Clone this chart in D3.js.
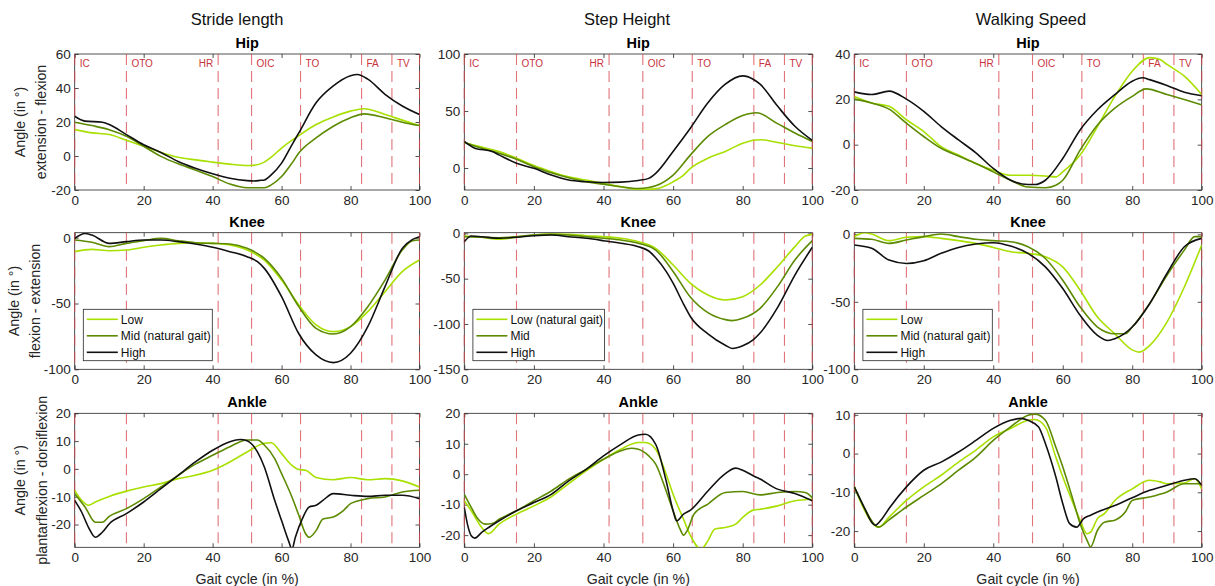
<!DOCTYPE html>
<html><head><meta charset="utf-8">
<script src="https://cdn.jsdelivr.net/npm/d3@7"></script>
<style>
body{margin:0;background:#fff}
svg{display:block}
text{font-family:"Liberation Sans",Arial,Helvetica,sans-serif}
</style>
</head><body>
<svg id="chart" width="1215" height="586"></svg>
<script>
// ---------- DATA ----------
const columnTitles = ["Stride length", "Step Height", "Walking Speed"];
const jointTitles = ["Hip", "Knee", "Ankle"];
const yLabelLine2 = ["extension - flexion", "flexion - extension", "plantarflexion - dorsiflexion"];
const seriesNamesByCol = [
  ["Low", "Mid (natural gait)", "High"],
  ["Low (natural gait)", "Mid", "High"],
  ["Low", "Mid (natural gait)", "High"]
];
const eventPositions = [0, 15, 41.6, 51.3, 65.5, 83.2, 92, 100];
const eventLabels = ["IC", "OTO", "HR", "OIC", "TO", "FA", "TV", ""];
const xTicks = [0, 20, 40, 60, 80, 100];

const hipDomains = [[-20, 60], [-19.3, 100], [-20, 40]];
const kneeDomains = [[-100, 3.8], [-150, 0.7], [-100, 1.2]];
const ankleDomains = [[-28.2, 20], [-24, 20], [-24.2, 10.4]];
const hipTicks = [[-20, 0, 20, 40, 60], [0, 50, 100], [-20, 0, 20, 40]];
const kneeTicks = [[-100, -50, 0], [-150, -100, -50, 0], [-100, -50, 0]];
const ankleTicks = [[-20, -10, 0, 10, 20], [-20, -10, 0, 10, 20], [-20, -10, 0, 10]];

// Stride length - Hip
const strideHipLow = [[0,15.5],[5,13.6],[10,12.6],[15,9.2],[20,5.7],[25,2.1],[30,-0.7],[35,-2.3],[40,-3.6],[45,-4.8],[50,-5.6],[52,-5.4],[55,-3.6],[57,-0.7],[60,4.7],[65,12.0],[70,18.5],[75,23.0],[80,26.4],[84,27.8],[90,24.4],[95,21.1],[100,17.9]];
const strideHipMid = [[0,19.9],[5,17.9],[10,15.5],[15,11.6],[20,5.7],[25,-0.2],[30,-4.6],[35,-8.2],[40,-12.1],[45,-16.5],[50,-18.7],[55,-18.7],[57,-17],[60,-12.1],[63,-4.2],[65,1.7],[70,10.6],[75,17.5],[80,22.5],[84,24.8],[90,22.5],[95,19.9],[100,17.9]];
const strideHipHigh = [[0,23.4],[3,20.5],[8,19.9],[10,18.5],[15,12.6],[20,6.6],[25,2.1],[30,-3.2],[35,-7.2],[40,-10.5],[45,-13.1],[50,-14.5],[52,-14.7],[54,-14.3],[55,-14.1],[57,-11.1],[60,-4.2],[63,6.6],[65,13.6],[70,31.3],[75,41.2],[80,47.2],[82,47.9],[85,45.2],[90,36.3],[95,29.4],[100,24.4]];
// Step Height - Hip
const stepHipLow = [[0,22.4],[5,18.3],[10,14.5],[15,8.6],[20,2.1],[25,-3.2],[30,-7.7],[35,-10.6],[40,-13.6],[45,-16.5],[50,-18.9],[55,-18.3],[60,-12.1],[63,-6.2],[65,-0.3],[70,8.6],[75,14.5],[80,21.8],[85,24.8],[90,22.4],[95,19.5],[100,17.4]];
const stepHipMid = [[0,22.4],[5,17.4],[10,13],[15,7.7],[20,1.2],[25,-4.1],[30,-8.6],[35,-12.1],[40,-14.2],[45,-16.5],[50,-18],[53,-17.1],[55,-15.6],[60,-6.2],[65,11.5],[70,27.7],[75,38.1],[80,46],[84,48.4],[90,38.9],[95,30.7],[100,23.3]];
const stepHipHigh = [[0,23.3],[3,17.4],[8,14.5],[10,11.5],[15,4.1],[20,-0.3],[25,-6.2],[30,-10.6],[35,-12.1],[40,-12.7],[45,-12.4],[50,-10.9],[53,-9.1],[55,-4.7],[60,14.5],[65,35.1],[70,57.2],[75,73.5],[80,80.8],[83,77.9],[85,73.5],[90,54.3],[95,36.6],[100,24.2]];
// Walking Speed - Hip
const speedHipLow = [[0,21.3],[5,18.4],[10,16.9],[15,11],[20,5.8],[25,-0.9],[30,-4.6],[35,-8.3],[40,-11.3],[45,-13.5],[50,-13.5],[55,-13.8],[58,-14.2],[60,-12],[65,-4.6],[70,8],[75,21.3],[80,32.4],[85,38.4],[88,37.6],[90,35.4],[95,30.2],[100,22.1]];
const speedHipMid = [[0,20.1],[5,18.4],[10,15.7],[15,9.5],[20,3.6],[25,-1.6],[30,-5],[35,-8.3],[40,-12],[45,-15.7],[50,-18.7],[55,-19],[58,-17.9],[60,-15.7],[65,-2.4],[70,8.7],[75,16.1],[80,21.3],[84,24.6],[90,22.1],[95,19.9],[100,17.6]];
const speedHipHigh = [[0,23.3],[5,22.1],[10,23.6],[15,20.1],[20,14.7],[25,8],[30,2.1],[35,-3.6],[40,-10.5],[45,-15.7],[50,-17.6],[52,-17.6],[55,-15.7],[60,-6.1],[65,6.5],[70,15.4],[75,22.1],[80,28],[83,29.5],[85,28.7],[90,26.1],[95,23.1],[100,21.6]];

// Stride length - Knee
const strideKneeLow = [[0,-10.6],[5,-8.9],[10,-9.9],[15,-9.4],[20,-7.3],[25,-5.6],[30,-4.3],[35,-3.8],[40,-4.3],[45,-5.6],[50,-9.4],[55,-17],[60,-32.2],[65,-51.1],[70,-66.3],[75,-71.4],[80,-67.6],[85,-56.2],[90,-41],[95,-25.8],[100,-17]];
const strideKneeMid = [[0,-1.8],[5,-3.5],[10,-6.8],[15,-4.3],[20,-2.3],[25,-0.5],[30,-2.3],[35,-3.8],[40,-4.3],[45,-4.8],[50,-8.1],[55,-15.7],[60,-30.9],[65,-52.4],[70,-68.9],[75,-73.2],[80,-67.6],[85,-52.4],[90,-32.2],[95,-9.4],[98,-2.3],[100,-1.8]];
const strideKneeHigh = [[0,-0.5],[3,3.2],[5,2],[10,-4.3],[15,-3],[20,-1.8],[25,-1.8],[30,-3],[35,-4.8],[40,-7.3],[45,-10.6],[50,-14.4],[53,-18.2],[55,-23.3],[60,-44.8],[65,-73],[70,-89.1],[75,-94.9],[80,-87.8],[85,-67.6],[90,-37.2],[95,-8.1],[98,-1.3],[100,0.8]];
// Step Height - Knee
const stepKneeLow = [[0,-2.9],[5,-4.4],[10,-6.6],[15,-4.4],[20,-1.8],[25,-0.7],[30,-1.1],[35,-2.6],[40,-3.7],[45,-5.5],[50,-9.2],[55,-16.5],[60,-34.9],[65,-55.1],[70,-68],[75,-73.5],[80,-69.9],[85,-57],[90,-36.8],[95,-14.7],[98,-2.9],[100,-1.1]];
const stepKneeMid = [[0,-3.7],[5,-4.4],[10,-4.8],[15,-3.7],[20,-1.8],[25,-1.1],[30,-1.8],[35,-3.7],[40,-5.5],[45,-7.4],[50,-11],[55,-18.4],[60,-42],[65,-70.5],[70,-87.5],[75,-95.2],[77,-96.3],[80,-93.8],[85,-82.7],[90,-58.8],[95,-29.4],[100,-8.1]];
const stepKneeHigh = [[0,-9.2],[2,-2.9],[5,-3.7],[10,-5.5],[15,-4.4],[20,-2.6],[25,-1.8],[30,-3.7],[35,-5.5],[40,-8.1],[45,-11],[50,-14.7],[53,-19.5],[55,-27],[58,-42],[60,-55],[63,-78],[65,-92],[70,-111],[75,-123.5],[77,-127],[80,-124],[83,-117.5],[85,-110],[90,-82],[95,-46],[100,-15.4]];
// Walking Speed - Knee
const speedKneeLow = [[0,-1.7],[3,1.2],[5,0.2],[10,-4.7],[15,-2.2],[20,-1.7],[25,-3],[30,-4.7],[35,-6.7],[40,-9.7],[45,-12.9],[50,-14.1],[55,-16.6],[60,-24.1],[65,-41.4],[70,-61.3],[75,-73.7],[80,-85.6],[82,-87.3],[85,-82.4],[90,-65],[95,-39],[100,-7.9]];
const speedKneeMid = [[0,-3],[5,-3.7],[10,-6.7],[15,-4.2],[20,-1.7],[25,0.2],[30,-1.7],[35,-3.7],[40,-4.7],[45,-5.5],[50,-9.2],[55,-17.9],[60,-34],[65,-53.8],[70,-68.7],[75,-73.7],[78,-73.7],[80,-68.7],[85,-51.4],[90,-30.3],[95,-11.7],[98,-1.7],[100,-1.7]];
const speedKneeHigh = [[0,-7.9],[5,-10.4],[10,-19.1],[15,-21.6],[20,-19.6],[25,-14.1],[30,-9.7],[35,-7.2],[40,-6.2],[45,-8.7],[50,-14.1],[55,-24.1],[60,-40.2],[65,-60],[70,-74.9],[73,-78.7],[75,-77.4],[80,-68.7],[85,-51.4],[90,-29],[95,-9.2],[100,-3]];

// Stride length - Ankle
const strideAnkleLow = [[0,-7.7],[2,-11.3],[4,-13.1],[6,-11.9],[10,-9.9],[15,-8],[20,-6.5],[25,-5.3],[30,-3.5],[35,-2.3],[40,-0.5],[45,2.5],[50,6.1],[55,9.2],[57,9.4],[60,5.5],[63,1.3],[65,-0.2],[67,-0.5],[70,-3.1],[75,-3.9],[80,-3.1],[85,-3.9],[90,-3.5],[95,-4.3],[100,-6.5]];
const strideAnkleMid = [[0,-8.9],[3,-13.7],[6,-19.2],[8,-19.2],[10,-17.1],[15,-14.3],[20,-10.7],[25,-6.5],[30,-2.3],[35,1.7],[40,4.9],[45,8],[50,10.4],[53,10.4],[55,8.6],[58,3.7],[60,-1.7],[63,-10.1],[65,-16.7],[67,-23.4],[68,-24.6],[70,-22.2],[72,-18],[75,-17.3],[78,-14.9],[80,-12.5],[85,-10.7],[90,-10.1],[95,-8.3],[100,-7.7]];
const strideAnkleHigh = [[0,-11.3],[2,-15.5],[4,-21],[6,-24.6],[8,-22.8],[10,-19.8],[15,-16.1],[20,-11.9],[25,-7.1],[30,-2.3],[35,2.5],[40,6.7],[45,9.8],[48,10.6],[50,10.1],[53,6.1],[55,0.7],[58,-11.3],[60,-18.6],[62,-25.8],[63,-28.8],[64,-24.6],[66,-18],[68,-13.7],[70,-13.1],[72,-11.3],[75,-8.9],[80,-9.5],[85,-9.9],[90,-9.5],[95,-9.5],[100,-10.7]];
// Step Height - Ankle
const stepAnkleLow = [[0,-8.7],[2,-12],[5,-17.5],[7,-19.5],[10,-16.4],[15,-13.1],[20,-10.4],[25,-7.4],[30,-3.1],[35,1.1],[40,4.9],[45,8.2],[50,10.4],[52,10.4],[55,8.2],[58,0],[60,-6.6],[63,-14.8],[65,-20.2],[68,-24.6],[70,-21.9],[72,-18],[75,-17.5],[78,-16.4],[80,-14.2],[83,-11.8],[85,-11.5],[90,-10.4],[95,-8.7],[100,-8.2]];
const stepAnkleMid = [[0,-6.6],[2,-10.9],[4,-14.8],[6,-16.4],[8,-16.2],[10,-14.8],[15,-12],[20,-8.7],[25,-5.5],[30,-1.6],[35,1.6],[40,4.9],[45,7.7],[48,8.5],[50,8.2],[53,6],[55,3.3],[58,-5.5],[60,-12],[62,-18],[63,-20],[64,-18.6],[66,-13.1],[70,-9.8],[75,-6],[80,-5.7],[85,-6.8],[90,-6],[95,-5.7],[98,-6],[100,-7.7]];
const stepAnkleHigh = [[0,-10.9],[1,-16.9],[2,-20.2],[3,-21],[5,-19.1],[7,-17.5],[10,-15.3],[15,-12],[20,-9.3],[25,-6.6],[30,-2.2],[35,1.6],[40,6],[45,9.8],[50,12.9],[52,13.1],[55,9.8],[58,-2.2],[60,-12],[61,-15.3],[63,-13.1],[65,-11.8],[70,-5.5],[75,0.2],[78,2],[80,1.3],[83,-0.5],[85,-1.6],[90,-4.9],[95,-6.3],[100,-8.7]];
// Walking Speed - Ankle
const speedAnkleLow = [[0,-8.6],[3,-14.7],[5,-17.7],[7,-19],[10,-16.4],[15,-12.1],[20,-8.6],[25,-5.6],[30,-2.2],[35,0.9],[40,4.3],[45,6.5],[50,8.6],[52,8.8],[55,6.9],[58,-0.9],[60,-6],[63,-12.9],[65,-17.2],[67,-20.7],[68,-20.3],[70,-16.8],[72,-15.5],[75,-12.1],[80,-9.1],[85,-6.9],[88,-7.3],[90,-7.8],[95,-7.6],[98,-6.5],[100,-9.1]];
const speedAnkleMid = [[0,-8.6],[3,-14.2],[6,-18.5],[7,-19],[10,-17.1],[15,-13.8],[20,-10.8],[25,-7.8],[30,-4.3],[35,-0.9],[40,3.4],[45,6.9],[50,9.9],[52,10.2],[55,8.6],[58,1.7],[60,-3.4],[63,-12.1],[65,-18.1],[67,-22.4],[68,-24.1],[70,-19.8],[72,-17.7],[75,-17.2],[78,-15.1],[80,-12.1],[85,-11.2],[90,-9.9],[95,-7.8],[100,-7.8]];
const speedAnkleHigh = [[0,-8.6],[3,-14.2],[5,-17.7],[6,-18.5],[8,-16.8],[10,-14.2],[15,-8.6],[20,-4.3],[25,-2.2],[30,0.4],[35,3.4],[40,6.5],[45,8.6],[48,9.1],[50,8.6],[53,6.9],[55,2.6],[58,-6],[60,-12.9],[62,-18.1],[64,-19],[66,-16.8],[68,-15.9],[70,-15.1],[75,-13.4],[80,-11.4],[85,-9.5],[90,-8.2],[95,-6.9],[98,-6.5],[100,-8.2]];

// ---------- LAYOUT / STYLE ----------
const seriesColors = ["#a8e000", "#5c8a00", "#111111"];
const panelData = [
  [[strideHipLow, strideHipMid, strideHipHigh], [stepHipLow, stepHipMid, stepHipHigh], [speedHipLow, speedHipMid, speedHipHigh]],
  [[strideKneeLow, strideKneeMid, strideKneeHigh], [stepKneeLow, stepKneeMid, stepKneeHigh], [speedKneeLow, speedKneeMid, speedKneeHigh]],
  [[strideAnkleLow, strideAnkleMid, strideAnkleHigh], [stepAnkleLow, stepAnkleMid, stepAnkleHigh], [speedAnkleLow, speedAnkleMid, speedAnkleHigh]]
];
const domainsByRow = [hipDomains, kneeDomains, ankleDomains];
const ticksByRow = [hipTicks, kneeTicks, ankleTicks];

const colX = [[74.7, 419.5], [464.3, 812.3], [854.3, 1201.7]];
const rowY = [[54, 190], [232.7, 369.3], [413.3, 547.3]];
const colTitleX = [237, 627, 1031];
const legendW = [129, 131.7, 129.4];
const ylab1X = [25, 18.5, 25];
const ylab2X = [46, 39.5, 47];

const svg = d3.select("#chart");
const axisColor = "#262626";

columnTitles.forEach((t, c) => {
  svg.append("text").attr("x", colTitleX[c]).attr("y", 24.5).attr("text-anchor", "middle")
    .attr("font-size", "16.5px").attr("fill", "#111").text(t);
});

for (let r = 0; r < 3; r++) {
  for (let c = 0; c < 3; c++) {
    const [x0, x1] = colX[c];
    const [yT, yB] = rowY[r];
    const x = d3.scaleLinear().domain([0, 100]).range([x0, x1]);
    const y = d3.scaleLinear().domain(domainsByRow[r][c]).range([yB, yT]);
    const g = svg.append("g");

    g.append("rect").attr("x", x0).attr("y", yT).attr("width", x1 - x0).attr("height", yB - yT)
      .attr("fill", "#fff").attr("stroke", axisColor).attr("stroke-width", 0.8);

    const fmt = d => String(d);
    const styleAxis = (sel, labels) => {
      sel.select(".domain").remove();
      sel.selectAll(".tick line").attr("stroke", axisColor).attr("stroke-width", 0.8);
      sel.selectAll(".tick text").attr("fill", axisColor).attr("font-size", "13.5px")
        .attr("font-family", '"Liberation Sans",Arial,sans-serif');
      if (!labels) sel.selectAll(".tick text").remove();
    };
    g.append("g").attr("transform", `translate(0,${yB})`)
      .call(d3.axisBottom(x).tickValues(xTicks).tickSize(-4).tickPadding(5).tickFormat(fmt))
      .call(s => styleAxis(s, true));
    g.append("g").attr("transform", `translate(0,${yT})`)
      .call(d3.axisTop(x).tickValues(xTicks).tickSize(-4).tickFormat(fmt))
      .call(s => styleAxis(s, false));
    g.append("g").attr("transform", `translate(${x0},0)`)
      .call(d3.axisLeft(y).tickValues(ticksByRow[r][c]).tickSize(-4).tickPadding(4).tickFormat(fmt))
      .call(s => styleAxis(s, true));
    g.append("g").attr("transform", `translate(${x1},0)`)
      .call(d3.axisRight(y).tickValues(ticksByRow[r][c]).tickSize(-4).tickFormat(fmt))
      .call(s => styleAxis(s, false));

    eventPositions.forEach((p, i) => {
      g.append("line").attr("x1", x(p)).attr("x2", x(p)).attr("y1", yT).attr("y2", yB)
        .attr("stroke", "#d6454c").attr("stroke-opacity", 0.75).attr("stroke-width", 1.1)
        .attr("stroke-dasharray", "11,6");
      if (r === 0 && eventLabels[i]) {
        const left = eventLabels[i] === "HR";
        g.append("text").attr("x", x(p) + (left ? -5 : 5)).attr("y", 66.5)
          .attr("text-anchor", left ? "end" : "start").attr("font-size", "10px")
          .attr("fill", "#c8323c").text(eventLabels[i]);
      }
    });

    const clipId = `clip${r}${c}`;
    svg.append("clipPath").attr("id", clipId).append("rect")
      .attr("x", x0).attr("y", yT).attr("width", x1 - x0).attr("height", yB - yT);
    const line = d3.line().x(d => x(d[0])).y(d => y(d[1])).curve(d3.curveMonotoneX);
    panelData[r][c].forEach((s, k) => {
      g.append("path").datum(s).attr("d", line).attr("fill", "none")
        .attr("stroke", seriesColors[k]).attr("stroke-width", 1.6)
        .attr("clip-path", `url(#${clipId})`);
    });

    g.append("text").attr("x", (x0 + x1) / 2).attr("y", yT - 6).attr("text-anchor", "middle")
      .attr("font-size", "14.5px").attr("font-weight", "bold").attr("fill", "#000").text(jointTitles[r]);

    if (r === 1) {
      const lx = x0 + 8.6, ly = 309.3;
      const lg = g.append("g");
      lg.append("rect").attr("x", lx).attr("y", ly).attr("width", legendW[c]).attr("height", 51.4)
        .attr("fill", "#fff").attr("stroke", axisColor).attr("stroke-width", 0.8);
      seriesNamesByCol[c].forEach((nm, k) => {
        const yy = ly + 10 + k * 16.5;
        lg.append("line").attr("x1", lx + 3.5).attr("x2", lx + 34.5).attr("y1", yy).attr("y2", yy)
          .attr("stroke", seriesColors[k]).attr("stroke-width", 1.6);
        lg.append("text").attr("x", lx + 37.5).attr("y", yy + 4.3).attr("font-size", "12px")
          .attr("fill", "#111").text(nm);
      });
    }

    if (r === 2) {
      g.append("text").attr("x", (x0 + x1) / 2).attr("y", 584).attr("text-anchor", "middle")
        .attr("font-size", "14.2px").attr("fill", axisColor).text("Gait cycle (in %)");
    }
    if (c === 0) {
      const cy = (yT + yB) / 2;
      g.append("text").attr("transform", `translate(${ylab1X[r]},${cy}) rotate(-90)`)
        .attr("text-anchor", "middle").attr("font-size", "14.2px").attr("fill", axisColor).text("Angle (in °)");
      g.append("text").attr("transform", `translate(${ylab2X[r]},${cy}) rotate(-90)`)
        .attr("text-anchor", "middle").attr("font-size", "14.2px").attr("fill", axisColor).text(yLabelLine2[r]);
    }
  }
}
</script>
</body></html>
